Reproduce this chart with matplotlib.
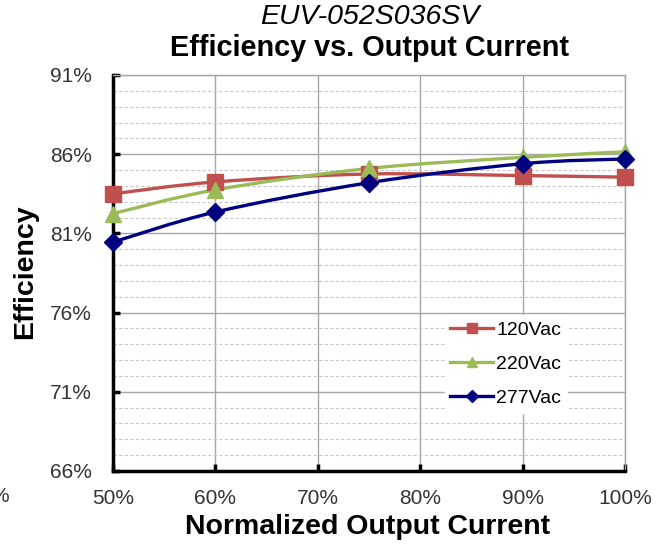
import matplotlib.pyplot as plt
from matplotlib.path import Path
from matplotlib.patches import PathPatch
from matplotlib.lines import Line2D
from matplotlib.ticker import MultipleLocator, FixedLocator, FuncFormatter

plt.rcParams['font.family'] = ['Liberation Sans', 'DejaVu Sans']

load = [50, 60, 75, 90, 100]
eff_120 = [83.5, 84.25, 84.75, 84.65, 84.55]
eff_220 = [82.25, 83.75, 85.1, 85.8, 86.15]
eff_277 = [80.45, 82.35, 84.2, 85.4, 85.7]
y_ticks = [66, 71, 76, 81, 86, 91]

series = [
    ('120Vac', eff_120, '#C0504D', 's', 11),
    ('220Vac', eff_220, '#9BBB59', '^', 11),
    ('277Vac', eff_277, '#000080', 'D', 9.5),
]


def smooth_path(x, y):
    # Excel-like smoothed line: cubic bezier through every point
    verts = [(x[0], y[0])]
    codes = [Path.MOVETO]
    n = len(x)
    for i in range(n - 1):
        x0, y0 = (x[i - 1], y[i - 1]) if i > 0 else (x[i], y[i])
        x3, y3 = (x[i + 2], y[i + 2]) if i + 2 < n else (x[i + 1], y[i + 1])
        c1 = (x[i] + (x[i + 1] - x0) / 6, y[i] + (y[i + 1] - y0) / 6)
        c2 = (x[i + 1] - (x3 - x[i]) / 6, y[i + 1] - (y3 - y[i]) / 6)
        verts += [c1, c2, (x[i + 1], y[i + 1])]
        codes += [Path.CURVE4] * 3
    return Path(verts, codes)


fig = plt.figure(figsize=(6.64, 5.47), dpi=100)
ax = fig.add_axes([113 / 664, 1 - 471 / 547, 512 / 664, 396 / 547])

ax.set_xlim(50, 100)
ax.set_ylim(66, 91)
ax.xaxis.set_major_locator(MultipleLocator(10))
ax.yaxis.set_major_locator(FixedLocator(y_ticks))
ax.yaxis.set_minor_locator(MultipleLocator(1))
pct = FuncFormatter(lambda v, p: '%d%%' % round(v))
ax.xaxis.set_major_formatter(pct)
ax.yaxis.set_major_formatter(pct)

ax.grid(which='major', axis='both', color='#A6A6A6', lw=1.0)
ax.grid(which='minor', axis='y', color='#C8C8C8', lw=0.8, ls=(0, (3, 2)))
ax.set_axisbelow(True)

for side in ('top', 'right'):
    ax.spines[side].set_color('#A6A6A6')
    ax.spines[side].set_linewidth(1.0)
for side in ('left', 'bottom'):
    ax.spines[side].set_color('black')
    ax.spines[side].set_linewidth(2.5)

ax.tick_params(which='major', direction='in', length=5, width=2.5, color='black',
               labelsize=15, labelcolor='#333333')
ax.tick_params(which='minor', length=0)
ax.tick_params(axis='x', pad=13)
ax.tick_params(axis='y', pad=15)

for name, vals, col, mk, ms in series:
    ax.add_patch(PathPatch(smooth_path(load, vals), fill=False, edgecolor=col,
                           lw=2.4, zorder=3))
    ax.plot(load, vals, ls='none', marker=mk, ms=ms, color=col, zorder=4,
            clip_on=False)

handles = [Line2D([], [], color=c, lw=2.4, marker=m, ms=s * 0.6)
           for _, _, c, m, s in series]
leg = ax.legend(handles, [s[0] for s in series], loc='center',
                bbox_to_anchor=(0.767, 0.27), frameon=True, fancybox=False,
                edgecolor='white', framealpha=1, fontsize=14,
                labelspacing=0.86, handlelength=2.2, handletextpad=0.15,
                borderpad=0.3, borderaxespad=0)

fig.text(370 / 664, 1 - 17 / 547, 'EUV-052S036SV', ha='center', va='center',
         fontsize=20.5, style='italic')
fig.text(369 / 664, 1 - 48 / 547, 'Efficiency vs. Output Current', ha='center',
         va='center', fontsize=20.8, fontweight='bold')
fig.text(368 / 664, 1 - 527 / 547, 'Normalized Output Current', ha='center',
         va='center', fontsize=20.5, fontweight='bold')
fig.text(25 / 664, 1 - 272 / 547, 'Efficiency', ha='center', va='center',
         rotation=90, fontsize=20.5, fontweight='bold')
fig.text(0.0, 1 - 497 / 547, '%', ha='center', va='center', fontsize=15,
         color='#333333')

fig.savefig('out.png', dpi=100)
